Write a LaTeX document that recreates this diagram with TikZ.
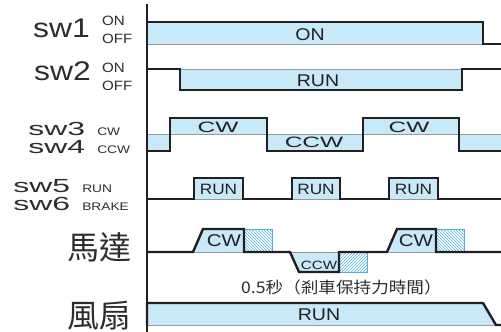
\documentclass[tikz,border=0pt]{standalone}
\usepackage{fontspec}
\setmainfont{Liberation Sans}
\newfontfamily\cjk{Noto Sans CJK TC}
\usetikzlibrary{patterns}

\definecolor{sigfill}{RGB}{200,233,248}
\definecolor{sigline}{RGB}{35,31,32}
\definecolor{hatchblue}{RGB}{80,175,225}
\definecolor{lbltext}{RGB}{45,45,45}

\newcommand\fsz[1]{\fontsize{#1}{#1}\selectfont}

\tikzset{
  sig/.style={sigline, line width=2.4pt, line join=miter},
  edge/.style={gray!80, line width=0.7pt},
  hatchbox/.style={hatchblue, line width=0.6pt, pattern color=hatchblue},
  swname/.style={anchor=base west, inner sep=0pt, text=lbltext},
  swbig/.style={swname, font=\fsz{27}, xscale=1.18},
  swmid/.style={swname, font=\fsz{19}, xscale=1.68},
  swtag/.style={swname, font=\fsz{13.5}, xscale=1.12},
  swsmall/.style={swname, font=\fsz{11}, xscale=1.25},
  cjkname/.style={inner sep=0pt, text=lbltext, font=\cjk\fsz{32}},
  tag/.style={inner sep=0pt, text=sigline, font=\fsz{17}, xscale=1.15},
  widetag/.style={tag, font=\fsz{15}, xscale=1.42}
}

\begin{document}
\begin{tikzpicture}[x=1pt, y=-1pt]
\useasboundingbox (0,0) rectangle (501,332);

% fills
\fill[sigfill] (147,22) rectangle (483,44);
\fill[sigfill] (180,69) rectangle (462,90);

\fill[sigfill] (147,134) rectangle (170,151);
\fill[sigfill] (170,118) rectangle (267,134);
\fill[sigfill] (267,134) rectangle (363,151);
\fill[sigfill] (363,118) rectangle (459,134);
\fill[sigfill] (459,134) rectangle (501,151);

\foreach \a/\b in {194/243, 292/340, 389/438}
    \fill[sigfill] (\a,178) rectangle (\b,199);

\fill[sigfill] (193,252) -- (203,229) -- (244,229) -- (244,252) -- cycle;
\fill[sigfill] (290,252) -- (299,272) -- (339,272) -- (339,252) -- cycle;
\fill[sigfill] (387,252) -- (397,229) -- (436,229) -- (436,252) -- cycle;

\fill[sigfill] (147,303) -- (483,303) -- (496,325) -- (147,325) -- cycle;

% hatched brake time
\draw[hatchbox, pattern=north west lines] (244,229) rectangle (272,252);
\draw[hatchbox, pattern=north east lines] (339,252) rectangle (367,272);
\draw[hatchbox, pattern=north west lines] (436,229) rectangle (464,252);

% thin edges
\draw[edge] (147,44) -- (483,44);
\draw[edge] (180,69) -- (462,69);
\draw[edge] (147,134) -- (501,134);
\foreach \a/\b in {194/243, 292/340, 389/438}
    \draw[edge] (\a,199) -- (\b,199);
\draw[edge] (193,252) -- (244,252);
\draw[edge] (290,252) -- (339,252);
\draw[edge] (387,252) -- (436,252);
\draw[edge] (147,325) -- (496,325);

% time axis
\draw[sigline, line width=1.3pt] (147,4) -- (147,332);

% signals
\draw[sig] (147,44) -- (147,22) -- (483,22) -- (483,44) -- (501,44);
\draw[sig] (147,69) -- (180,69) -- (180,90) -- (462,90) -- (462,69) -- (501,69);
\draw[sig] (147,151) -- (170,151) -- (170,118) -- (267,118) -- (267,151)
    -- (363,151) -- (363,118) -- (459,118) -- (459,151) -- (501,151);
\draw[sig] (147,199) -- (194,199) -- (194,178) -- (243,178) -- (243,199)
    -- (292,199) -- (292,178) -- (340,178) -- (340,199)
    -- (389,199) -- (389,178) -- (438,178) -- (438,199) -- (501,199);
\draw[sig] (147,252) -- (193,252) -- (203,229) -- (244,229) -- (244,252)
    -- (290,252) -- (299,272) -- (339,272) -- (339,252)
    -- (387,252) -- (397,229) -- (436,229) -- (436,252) -- (501,252);
\draw[sig] (147,325) -- (147,303) -- (483,303) -- (496,325) -- (501,325);

% row names
\node[swbig] (sw1) at (33,37) {sw1};
\node[swtag] (sw1on) at (102,25) {ON};
\node[swtag] (sw1off) at (102,43.5) {OFF};
\node[swbig] (sw2) at (34,80) {sw2};
\node[swtag] (sw2on) at (102,72) {ON};
\node[swtag] (sw2off) at (102,90) {OFF};

\node[swmid] (sw3) at (28,135) {sw3};
\node[swsmall] (sw3cw) at (97,135) {CW};
\node[swmid] (sw4) at (28,153) {sw4};
\node[swsmall] (sw4ccw) at (97,153) {CCW};

\node[swmid] (sw5) at (13,192) {sw5};
\node[swsmall] (sw5run) at (82,192) {RUN};
\node[swmid] (sw6) at (13,210) {sw6};
\node[swsmall] (sw6brake) at (82,210) {BRAKE};

\node[cjkname] (motor) at (99,247) {馬達};
\node[cjkname] (fan) at (99,316) {風扇};

% signal labels
\node[tag] (on1) at (310,35) {ON};
\node[tag] (run2) at (318,81) {RUN};
\node[widetag] (cw1) at (218,127) {CW};
\node[widetag] (ccw1) at (314,142) {CCW};
\node[widetag] (cw2) at (409,127) {CW};
\foreach \a/\b in {194/243, 292/340, 389/438}
    \node[tag, font=\fsz{15}] (run\a) at ({(\a+\b)/2},189) {RUN};
\node[tag, xscale=1.05] (mcw1) at (224,241) {CW};
\node[tag, font=\fsz{12}, xscale=1.1] (mccw) at (319,265) {CCW};
\node[tag, xscale=1.05] (mcw2) at (416,241) {CW};
\node[inner sep=0pt, anchor=west, xscale=1.1, text=lbltext, font=\cjk\fsz{16}] (hold) at (241,287) {0.5秒（剎車保持力時間）};
\node[tag] (fanrun) at (319,315) {RUN};

\end{tikzpicture}
\end{document}
